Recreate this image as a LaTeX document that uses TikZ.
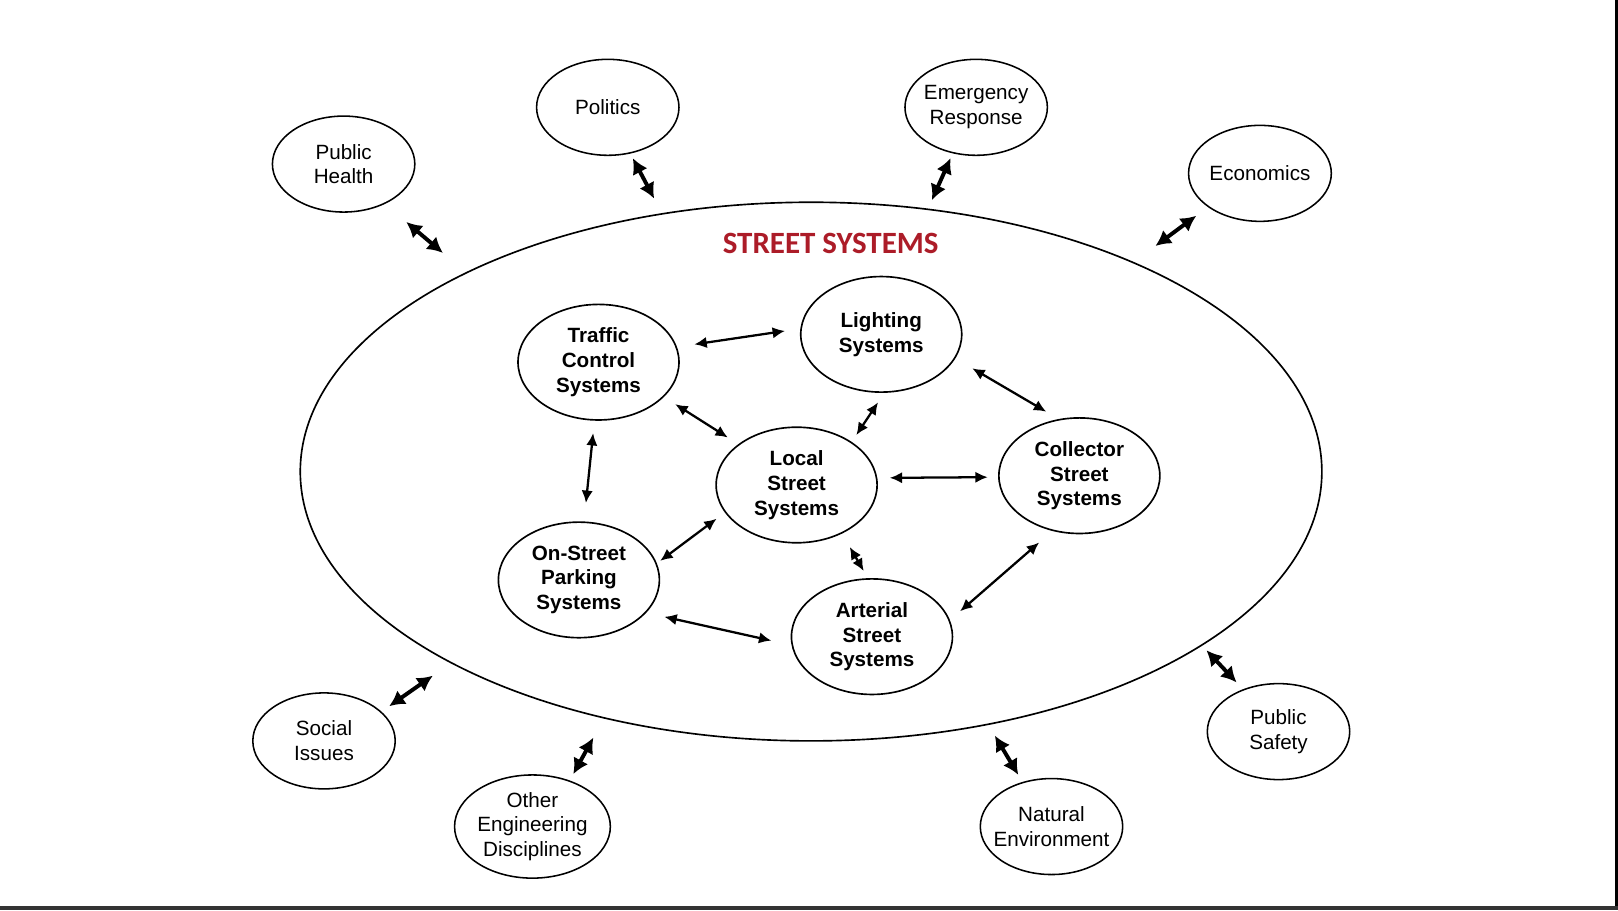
\documentclass[tikz,border=0pt]{standalone}
\usepackage{fontspec}
\setmainfont{Liberation Sans}
\newfontfamily\titlefont{Carlito}
\usetikzlibrary{shapes.geometric,arrows.meta}
\definecolor{titlered}{RGB}{172,28,40}
\begin{document}
\begin{tikzpicture}[x=1pt,y=-1pt,
  sysnode/.style={draw,ellipse,line width=1.6pt,inner sep=0pt,minimum width=156pt,minimum height=112pt,align=center,font=\fontsize{20}{24}\selectfont\bfseries},
  extnode/.style={draw,ellipse,line width=1.5pt,inner sep=0pt,minimum width=138pt,minimum height=93pt,align=center,font=\fontsize{20}{24}\selectfont},
  sysarrow/.style={line width=2.2pt,{Latex[length=12pt,width=11pt]}-{Latex[length=12pt,width=11pt]}},
  extarrow/.style={line width=3.8pt,{Latex[length=15pt,width=16pt]}-{Latex[length=15pt,width=16pt]}}]
  \useasboundingbox (0,0) rectangle (1568,882);
  \fill[black] (1565,0) rectangle (1568,882);
  \fill[black!80] (0,878) rectangle (1568,882);
  \node[draw,ellipse,line width=1.6pt,inner sep=0pt,minimum width=990pt,minimum height=522pt] (street) at (786,457) {};
  \node[font=\fontsize{30}{36}\selectfont\titlefont\bfseries,text=titlered] (title) at (805,236) {STREET SYSTEMS};
  \node[sysnode] (traffic) at (580,351) {Traffic\\Control\\Systems};
  \node[sysnode] (lighting) at (854,324) {Lighting\\Systems};
  \node[sysnode] (local) at (772,470) {Local\\Street\\Systems};
  \node[sysnode] (collector) at (1046,461) {Collector\\Street\\Systems};
  \node[sysnode] (parking) at (561,562) {On-Street\\Parking\\Systems};
  \node[sysnode] (arterial) at (845,617) {Arterial\\Street\\Systems};
  \node[extnode] (health) at (333,159) {Public\\Health};
  \node[extnode] (politics) at (589,104) {Politics};
  \node[extnode] (emergency) at (946,104) {\makebox[80pt]{Emergency}\\Response};
  \node[extnode] (economics) at (1221,168) {Economics};
  \node[extnode] (social) at (314,718) {Social\\Issues};
  \node[extnode,minimum width=150pt,minimum height=100pt] (other) at (516,801) {Other\\Engineering\\Disciplines};
  \node[extnode] (natural) at (1019,801) {Natural\\\makebox[80pt]{Environment}};
  \node[extnode] (safety) at (1239,709) {Public\\Safety};
  \draw[sysarrow,shorten <=17pt,shorten >=15pt] (traffic.11) -- (lighting.176);
  \draw[sysarrow,shorten <=19pt,shorten >=14pt] (lighting.-18) -- (collector.110);
  \draw[sysarrow,shorten <=13pt,shorten >=12pt] (traffic.-28) -- (local.145);
  \draw[sysarrow,shorten <=11pt,shorten >=8pt] (lighting.-87) -- (local.38);
  \draw[sysarrow,shorten <=12pt,shorten >=18pt] (traffic.-94) -- (parking.85);
  \draw[sysarrow,shorten <=12pt,shorten >=10pt] (local.5) -- (collector.181);
  \draw[sysarrow,shorten <=10pt,shorten >=4pt] (local.201) -- (parking.12);
  \draw[sysarrow,shorten <=15pt,shorten >=8pt] (local.-47) -- (arterial.94);
  \draw[sysarrow,shorten <=17pt,shorten >=13pt] (collector.244) -- (arterial.12);
  \draw[sysarrow,shorten <=18pt,shorten >=20pt] (parking.-26) -- (arterial.186);
  \draw[extarrow,shorten <=27pt,shorten >=29pt] (health.-44) -- (street.150);
  \draw[extarrow,shorten <=5pt,shorten >=16pt] (politics.-64) -- (street.120);
  \draw[extarrow,shorten <=5pt,shorten >=9pt] (emergency.243) -- (street.66);
  \draw[extarrow,shorten <=14pt,shorten >=26pt] (economics.213) -- (street.33);
  \draw[extarrow,shorten <=9pt,shorten >=21pt] (social.27) -- (street.208);
  \draw[extarrow,shorten <=7pt,shorten >=21pt] (other.51) -- (street.230);
  \draw[extarrow,shorten <=8pt,shorten >=12pt] (natural.123) -- (street.-55);
  \draw[extarrow,shorten <=9pt,shorten >=6pt] (safety.130) -- (street.-24);
\end{tikzpicture}
\end{document}
